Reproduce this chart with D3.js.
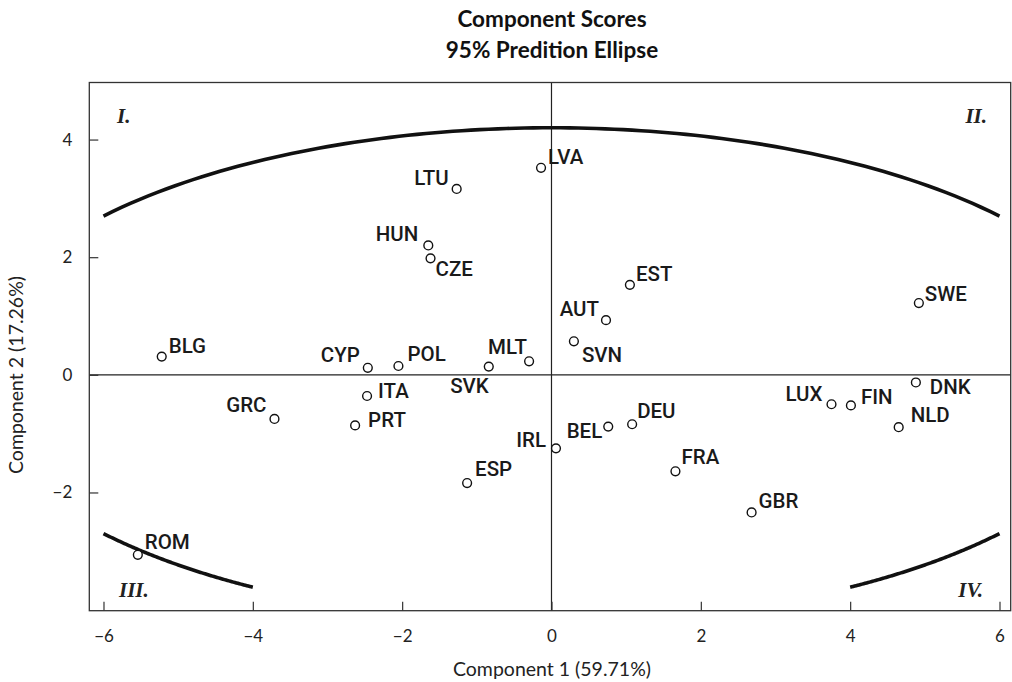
<!DOCTYPE html>
<html>
<head>
<meta charset="utf-8">
<script src="https://cdn.jsdelivr.net/npm/d3@7"></script>
<style>
  body { margin: 0; background: #fff; }
  svg { display: block; }
</style>
</head>
<body>
<svg id="chart" width="1012" height="682"></svg>
<script>
// ---- data ----
const countries = ["LVA","LTU","HUN","CZE","EST","AUT","SVN","SWE","DNK","LUX","FIN","NLD","DEU","BEL","IRL","FRA","GBR","CYP","POL","SVK","MLT","ITA","PRT","ESP","GRC","BLG","ROM"];
const comp1 = [-0.14,-1.27,-1.65,-1.62,1.05,0.73,0.30,4.92,4.88,3.75,4.01,4.65,1.08,0.76,0.06,1.66,2.68,-2.46,-2.05,-0.84,-0.30,-2.47,-2.63,-1.13,-3.71,-5.22,-5.54];
const comp2 = [3.52,3.16,2.20,1.98,1.53,0.93,0.57,1.22,-0.13,-0.50,-0.52,-0.89,-0.84,-0.88,-1.25,-1.64,-2.34,0.12,0.15,0.14,0.23,-0.36,-0.86,-1.84,-0.75,0.31,-3.06];
const xTicks = [-6,-4,-2,0,2,4,6];
const yTicks = [-2,0,2,4];
const ellipseAxes = [7.83, 4.2];           // semi-axes (component units) of 95% ellipse
const ellipseArcs = [[-6,6,1],[-6,-4,-1],[4,6,-1]]; // [x from, x to, upper(1)/lower(-1)]
const quadrants = ["I.","II.","III.","IV."];
const titleLines = ["Component Scores","95% Predition Ellipse"];
const xTitle = "Component 1 (59.71%)";
const yTitle = "Component 2 (17.26%)";

// ---- label placement (style) ----
const labelPos = {
  LVA:[7,-4,"start"], LTU:[-8,-4,"end"], HUN:[-10,-4,"end"], CZE:[5,18,"start"],
  EST:[6,-4,"start"], AUT:[-7,-4,"end"], SVN:[8,21,"start"], SWE:[6,-2,"start"],
  DNK:[14,12,"start"], LUX:[-9,-3,"end"], FIN:[10,-1,"start"], NLD:[12,-5,"start"],
  DEU:[5,-6,"start"], BEL:[-6,11,"end"], IRL:[-10,-1,"end"], FRA:[6,-7,"start"],
  GBR:[7,-4,"start"], CYP:[-8,-6,"end"], POL:[9,-5,"start"], SVK:[0,26,"end"],
  MLT:[-2,-7,"end"], ITA:[11,2,"start"], PRT:[13,2,"start"], ESP:[8,-7,"start"],
  GRC:[-8,-7,"end"], BLG:[7,-4,"start"], ROM:[7,-6,"start"]
};

const svg = d3.select("#chart");
const L = 89.3, R = 1010.7, T = 82.5, B = 610.7;
const x = d3.scaleLinear().domain([-6.19, 6.15]).range([L, R]);
const y = d3.scaleLinear().domain([-4.01, 4.97]).range([B, T]);

const sansAxis = "Lato, 'Open Sans', sans-serif";

// title
svg.selectAll("text.title").data(titleLines).join("text")
  .attr("class","title")
  .attr("x", 552).attr("y", (d,i) => 27 + i*31)
  .attr("text-anchor","middle")
  .style("font-family", sansAxis).style("font-weight", 700).style("font-size","22.5px")
  .attr("fill","#111")
  .text(d => d);

// zero lines
svg.append("line").attr("x1", x(0)).attr("x2", x(0)).attr("y1", T).attr("y2", B)
  .attr("stroke","#222").attr("stroke-width",1.2);
svg.append("line").attr("x1", L).attr("x2", R).attr("y1", y(0)).attr("y2", y(0))
  .attr("stroke","#222").attr("stroke-width",1.2);

// axes
const xAxis = d3.axisBottom(x).tickValues(xTicks).tickSizeInner(-9).tickSizeOuter(0).tickPadding(19);
const yAxis = d3.axisLeft(y).tickValues(yTicks).tickSizeInner(-9).tickSizeOuter(0).tickPadding(17);
const gx = svg.append("g").attr("transform", `translate(0,${B})`).call(xAxis);
const gy = svg.append("g").attr("transform", `translate(${L},0)`).call(yAxis);
[gx, gy].forEach(g => {
  g.select(".domain").remove();
  g.selectAll(".tick line").attr("stroke","#333").attr("stroke-width",1.2);
  g.selectAll(".tick text").attr("fill","#222")
    .style("font-family", sansAxis).style("font-size","17px");
});

// frame
svg.append("rect").attr("x",L).attr("y",T).attr("width",R-L).attr("height",B-T)
  .attr("fill","none").attr("stroke","#333").attr("stroke-width",1.3);

// ellipse arcs
const [ea, eb] = ellipseAxes;
const line = d3.line().x(d => x(d[0])).y(d => y(d[1]));
ellipseArcs.forEach(([x0, x1, s]) => {
  const pts = d3.range(0, 101).map(i => {
    const xv = x0 + (x1 - x0) * i / 100;
    return [xv, s * eb * Math.sqrt(Math.max(0, 1 - (xv*xv)/(ea*ea)))];
  });
  svg.append("path").attr("d", line(pts)).attr("fill","none")
    .attr("stroke","#111").attr("stroke-width",3.6);
});

// quadrant labels
const qPos = [[117, 123, "start"], [987, 123, "end"], [119, 597, "start"], [983, 597, "end"]];
svg.selectAll("text.quad").data(quadrants).join("text")
  .attr("class","quad")
  .attr("x", (d,i) => qPos[i][0]).attr("y", (d,i) => qPos[i][1])
  .attr("text-anchor", (d,i) => qPos[i][2])
  .style("font-family","'Liberation Serif', 'DejaVu Serif', serif")
  .style("font-style","italic").style("font-weight",700).style("font-size","21px")
  .attr("fill","#222")
  .text(d => d);

// points
const pts = countries.map((c,i) => ({name:c, x:comp1[i], y:comp2[i]}));
svg.selectAll("circle.pt").data(pts).join("circle")
  .attr("class","pt")
  .attr("cx", d => x(d.x)).attr("cy", d => y(d.y)).attr("r", 4.4)
  .attr("fill","#fff").attr("stroke","#111").attr("stroke-width",1.4);

svg.selectAll("text.lbl").data(pts).join("text")
  .attr("class","lbl")
  .attr("x", d => x(d.x) + labelPos[d.name][0])
  .attr("y", d => y(d.y) + labelPos[d.name][1])
  .attr("text-anchor", d => labelPos[d.name][2])
  .style("font-family","Roboto, 'DejaVu Sans', sans-serif")
  .style("font-size","20.5px").style("font-weight",500)
  .attr("fill","#1a1a1a")
  .text(d => d.name);

// axis titles
svg.append("text").attr("x", 552).attr("y", 676).attr("text-anchor","middle")
  .style("font-family", sansAxis).style("font-size","19.5px").attr("fill","#222")
  .text(xTitle);
svg.append("text").attr("transform", `translate(23,${375}) rotate(-90)`)
  .attr("text-anchor","middle")
  .style("font-family", sansAxis).style("font-size","19.5px").attr("fill","#222")
  .text(yTitle);
</script>
</body>
</html>
